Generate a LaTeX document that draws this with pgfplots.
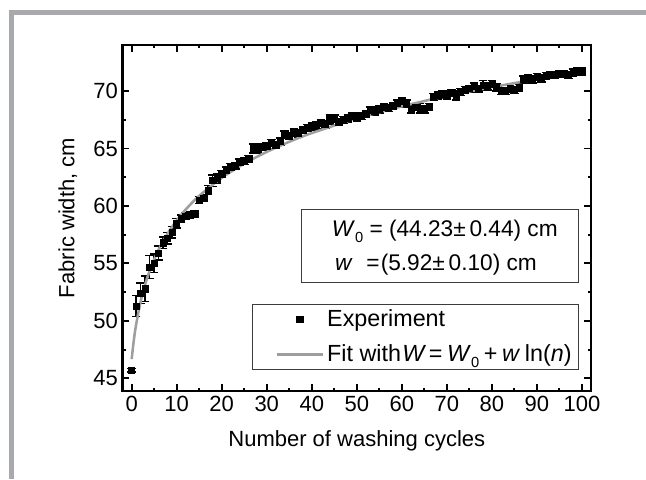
\documentclass[border=0pt]{standalone}
\usepackage{fontspec}
\setmainfont{Liberation Sans}
\usepackage{pgfplots}
\usepackage{pgfplotstable}
\pgfplotsset{compat=1.18}

\definecolor{framegray}{RGB}{167,169,172}
\definecolor{fitgray}{RGB}{158,158,158}
\definecolor{boxgray}{RGB}{60,60,60}

\newcommand{\sub}[1]{\raisebox{-0.5ex}{\fontsize{11}{11}\selectfont #1}}

\pgfplotsset{
    marklegend/.style={legend image code/.code={\path (-14pt,0pt);
        \draw[mark repeat=2, mark phase=2, ##1]
        plot coordinates {(0pt,0pt) (17.5pt,0pt) (35pt,0pt)};}},
    linelegend/.style={legend image code/.code={\path (-14pt,0pt);
        \draw[##1] (0pt,0pt) -- (35pt,0pt);}},
}

% washing cycle, width (cm), error (cm)
\pgfplotstableread{
n w e
0 45.7 0.15
1 51.3 0.9
2 52.4 0.9
3 52.8 1.1
4 54.7 1.0
5 55.0 0.8
6 55.9 0.6
7 56.8 0.5
8 57.2 0.5
9 57.7 0.5
10 58.5 0.4
11 58.9 0.3
12 59.1 0.3
13 59.2 0.3
14 59.3 0.3
15 60.5 0.3
16 60.7 0.3
17 61.4 0.4
18 62.2 0.5
19 62.4 0.4
20 62.8 0.3
21 63.1 0.3
22 63.4 0.3
23 63.5 0.3
24 63.8 0.3
25 63.9 0.3
26 64.1 0.3
27 65.0 0.4
28 64.9 0.3
29 65.1 0.3
30 65.2 0.3
31 65.5 0.3
32 65.3 0.3
33 65.6 0.3
34 66.2 0.3
35 66.1 0.3
36 66.4 0.3
37 66.3 0.3
38 66.6 0.3
39 66.8 0.3
40 66.9 0.3
41 67.0 0.3
42 67.2 0.3
43 67.1 0.3
44 67.5 0.4
45 67.6 0.3
46 67.3 0.3
47 67.5 0.3
48 67.6 0.3
49 67.8 0.3
50 67.7 0.3
51 67.8 0.3
52 68.0 0.3
53 68.3 0.3
54 68.2 0.3
55 68.4 0.3
56 68.6 0.3
57 68.5 0.3
58 68.7 0.3
59 68.9 0.3
60 69.1 0.3
61 68.9 0.3
62 68.4 0.3
63 68.6 0.3
64 68.5 0.4
65 68.4 0.3
66 68.6 0.3
67 69.5 0.3
68 69.6 0.3
69 69.7 0.3
70 69.6 0.3
71 69.8 0.3
72 69.6 0.4
73 69.9 0.3
74 70.1 0.3
75 70.2 0.3
76 70.4 0.3
77 70.2 0.3
78 70.5 0.4
79 70.4 0.3
80 70.6 0.3
81 70.3 0.3
82 70.1 0.4
83 70.0 0.3
84 70.2 0.3
85 70.1 0.3
86 70.3 0.3
87 71.0 0.3
88 71.1 0.3
89 71.0 0.3
90 71.2 0.3
91 71.1 0.3
92 71.3 0.3
93 71.4 0.3
94 71.4 0.3
95 71.5 0.3
96 71.5 0.3
97 71.4 0.3
98 71.6 0.3
99 71.7 0.3
100 71.7 0.3
}\expdata

% fitted curve
\pgfplotstableread{
n w
0 46.68
0.5 48.38
1 49.70
2 51.70
3 53.18
4 54.37
5 55.36
6 56.21
8 57.61
10 58.74
12 59.69
15 60.88
20 62.44
25 63.68
30 64.70
35 65.58
40 66.34
50 67.61
60 68.66
70 69.56
80 70.33
90 71.02
100 71.63
}\fitdata

\begin{document}
\begin{tikzpicture}
\useasboundingbox (0,0) rectangle (484.5pt,-359.25pt);
% page frame
\fill[framegray] (6.75pt,-7.5pt) rectangle (484.5pt,-11.25pt);
\fill[framegray] (6.75pt,-7.5pt) rectangle (10.5pt,-359.25pt);

\begin{axis}[
    at={(92pt,-293.25pt)}, anchor=south west,
    scale only axis,
    width=351.2pt, height=259.5pt,
    xmin=-2, xmax=102,
    ymin=43.9, ymax=74.0,
    xtick={0,10,...,100},
    ytick={45,50,...,70},
    minor x tick num=1,
    minor y tick num=1,
    tick align=inside,
    major tick length=5pt,
    minor tick length=2.5pt,
    axis line style={line width=2pt},
    every tick/.style={black, line width=1.4pt},
    /pgf/number format/assume math mode=true,
    tick label style={font=\fontsize{16.5}{17}\selectfont},
    label style={font=\fontsize{16.5}{18}\selectfont},
    xlabel={Number of washing cycles},
    ylabel={Fabric width, cm},
    xlabel style={at={(axis description cs:0.5,-0.145)}, anchor=center},
    ylabel style={at={(axis description cs:-0.117,0.5)}, anchor=center},
    legend style={at={(0.974,0.251)}, anchor=north east,
        draw=boxgray, line width=0.7pt,
        font=\fontsize{17.5}{18}\selectfont,
        inner xsep=3pt, inner ysep=2pt,
        row sep=8pt},
    legend cell align=left,
]
\addplot+[only marks, black, mark=square*, mark size=2.3pt,
    mark options={fill=black}, marklegend,
    error bars/.cd, y dir=both, y explicit,
    error bar style={line width=1.1pt, black},
    error mark options={rotate=90, mark size=3.2pt, line width=1.1pt, black}]
    table[x=n, y=w, y error=e] {\expdata};
\addlegendentry{Experiment}

\addplot[fitgray, line width=1.9pt, smooth, linelegend]
    table[x=n, y=w] {\fitdata};
\addlegendentry{Fit with\hspace{0.05em}\textit{W}\hspace{0.12em}=\hspace{0.2em}\textit{W}\sub{0}\hspace{0.2em}+\hspace{0.2em}\textit{w}\hspace{0.2em}ln(\textit{n})}

% parameter box
\node[draw=boxgray, line width=0.7pt, minimum width=207.75pt, minimum height=54.75pt,
      inner sep=0pt] at (axis cs:68.58,56.55) {};
\node[anchor=base west, inner sep=0pt, font=\fontsize{17}{18}\selectfont]
    at (axis cs:44.41,57.31) {\textit{W}\sub{0} = (44.23±\,0.44) cm};
\node[anchor=base west, inner sep=0pt, font=\fontsize{17}{18}\selectfont]
    at (axis cs:45.15,54.42) {\textit{w}\hspace{0.6em}=\hspace{0.05em}(5.92±\,0.10) cm};
\end{axis}
\end{tikzpicture}
\end{document}
